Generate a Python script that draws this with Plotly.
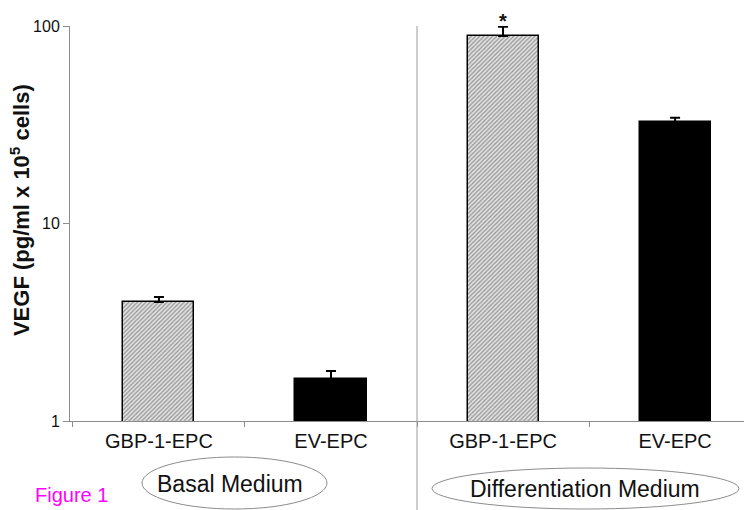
import plotly.graph_objects as go

# ---- data ----
categories = ["Basal GBP-1-EPC", "Basal EV-EPC", "Diff GBP-1-EPC", "Diff EV-EPC"]
tick_labels = ["GBP-1-EPC", "EV-EPC", "GBP-1-EPC", "EV-EPC"]
vegf = [4.0, 1.63, 89.0, 32.7]
vegf_err = [0.25, 0.16, 10.0, 1.6]
group_labels = ["Basal Medium", "Differentiation Medium"]
y_ticks = [1, 10, 100]
y_tick_text = ["1", "10", "100"]

FONT = "Liberation Sans, Arial, Helvetica, sans-serif"
AXIS_GRAY = "#8c8c8c"

is_gbp = [lbl.startswith("GBP") for lbl in tick_labels]
fill = ["#e2e2e2" if g else "#000000" for g in is_gbp]
shapes_pat = ["/" if g else "" for g in is_gbp]

fig = go.Figure()
fig.add_trace(go.Bar(
    x=categories,
    y=vegf,
    width=0.413,
    marker=dict(
        color=fill,
        line=dict(color="#000000", width=1.5),
        pattern=dict(shape=shapes_pat, fgcolor="#333333", bgcolor=fill,
                     size=3, solidity=0.4, fillmode="overlay"),
    ),
    error_y=dict(type="data", array=vegf_err, arrayminus=[0] * len(vegf_err),
                 symmetric=False, color="#000000", thickness=2, width=5),
    showlegend=False,
))

fig.update_layout(
    width=752, height=510,
    margin=dict(l=62, r=8, t=18, b=97),
    paper_bgcolor="white", plot_bgcolor="white",
    font=dict(family=FONT, color="#111111"),
    bargap=0,
    xaxis=dict(
        type="category",
        range=[-0.517, 3.447],
        automargin=False,
        tickmode="array", tickvals=categories, ticktext=tick_labels,
        tickson="boundaries",
        ticks="outside", ticklen=5, tickcolor=AXIS_GRAY, tickwidth=1,
        tickfont=dict(size=20, family=FONT, color="#111111"),
        ticklabelstandoff=2,
        showline=True, linecolor=AXIS_GRAY, linewidth=1,
        showgrid=False, zeroline=False,
    ),
    yaxis=dict(
        type="log",
        range=[0, 2],
        automargin=False,
        tickmode="array", tickvals=y_ticks, ticktext=y_tick_text,
        ticks="outside", ticklen=6, tickcolor=AXIS_GRAY, tickwidth=1,
        tickfont=dict(size=16, family=FONT, color="#111111"),
        showline=True, linecolor=AXIS_GRAY, linewidth=1,
        showgrid=False, zeroline=False,
    ),
)

# divider between the two media
fig.add_shape(type="line", xref="x", yref="paper",
              x0=1.5, x1=1.5, y0=-0.25, y1=1.0,
              line=dict(color="#9a9a9a", width=1))

# ellipses around group labels
fig.add_shape(type="circle", xref="paper", yref="paper",
              x0=0.1056, x1=0.3768, y0=-0.2228, y1=-0.0911,
              line=dict(color=AXIS_GRAY, width=1))
fig.add_shape(type="circle", xref="paper", yref="paper",
              x0=0.5308, x1=0.9809, y0=-0.2228, y1=-0.1190,
              line=dict(color=AXIS_GRAY, width=1))

fig.add_annotation(text=group_labels[0], xref="paper", yref="paper",
                   x=0.2353, y=-0.160, xanchor="center", yanchor="middle",
                   showarrow=False, font=dict(size=23, family=FONT, color="#111111"))
fig.add_annotation(text=group_labels[1], xref="paper", yref="paper",
                   x=0.7544, y=-0.172, xanchor="center", yanchor="middle",
                   showarrow=False, font=dict(size=23, family=FONT, color="#111111"))

# y title
fig.add_annotation(text="<b>VEGF (pg/ml x 10<sup>5</sup> cells)</b>",
                   xref="paper", yref="paper", x=-0.0733, y=0.534,
                   xanchor="center", yanchor="middle", textangle=-90,
                   showarrow=False, font=dict(size=22, family=FONT, color="#111111"))

# significance star
fig.add_annotation(text="<b>*</b>", xref="x", yref="paper",
                   x=categories[2], y=1.0456, xanchor="center", yanchor="top",
                   showarrow=False, font=dict(size=20, family=FONT, color="#111111"))

# figure label
fig.add_annotation(text="Figure 1", xref="paper", yref="paper",
                   x=-0.0543, y=-0.187, xanchor="left", yanchor="middle",
                   showarrow=False, font=dict(size=20, family=FONT, color="#ff00ff"))

fig.write_html("out.html")
